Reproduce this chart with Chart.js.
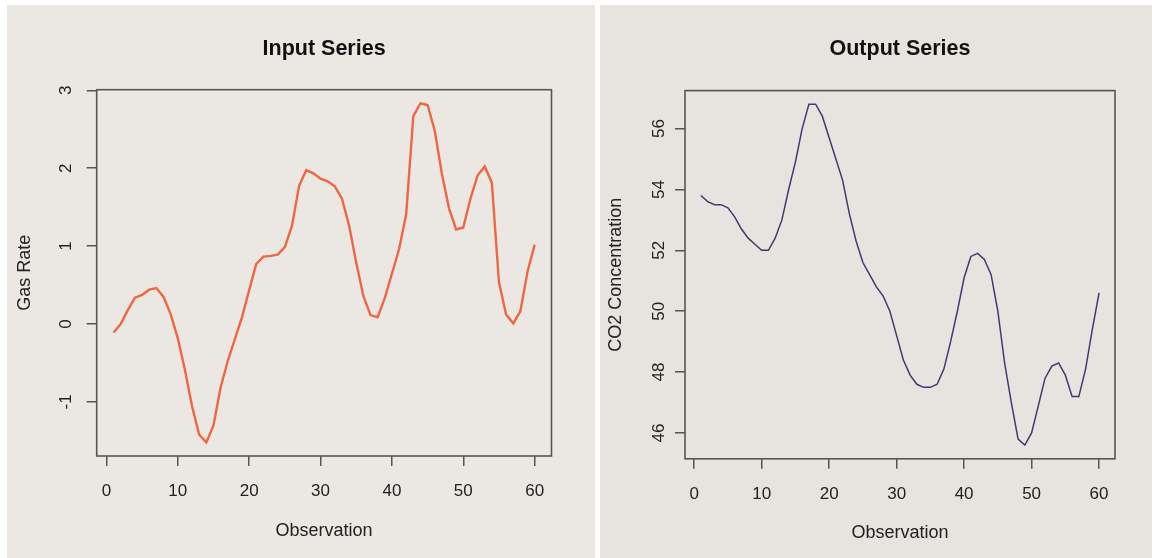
<!DOCTYPE html>
<html><head><meta charset="utf-8">
<script src="https://cdn.jsdelivr.net/npm/chart.js@4.4.0/dist/chart.umd.min.js"></script>
<style>
html,body{margin:0;padding:0;background:#ffffff;width:1152px;height:558px;overflow:hidden}
.panel{position:absolute}
#p1{left:7px;top:5px;width:588px;height:553px;background:#ebe8e4}
#p2{left:600px;top:5px;width:552px;height:553px;background:#e7e3de}
canvas{display:block}
</style></head><body>
<div class="panel" id="p1"><canvas id="c1" width="588" height="553"></canvas></div>
<div class="panel" id="p2"><canvas id="c2" width="552" height="553"></canvas></div>
<script>
const observations = [1,2,3,4,5,6,7,8,9,10,11,12,13,14,15,16,17,18,19,20,
  21,22,23,24,25,26,27,28,29,30,31,32,33,34,35,36,37,38,39,40,
  41,42,43,44,45,46,47,48,49,50,51,52,53,54,55,56,57,58,59,60];
const gasRate = [-0.109,0.000,0.178,0.339,0.373,0.441,0.461,0.348,0.127,-0.180,
  -0.588,-1.055,-1.421,-1.520,-1.302,-0.814,-0.475,-0.193,0.088,0.435,
  0.771,0.866,0.875,0.891,0.987,1.263,1.775,1.976,1.934,1.866,
  1.832,1.767,1.608,1.265,0.790,0.360,0.115,0.088,0.331,0.645,
  0.960,1.409,2.670,2.834,2.812,2.483,1.929,1.485,1.214,1.239,
  1.608,1.905,2.023,1.815,0.535,0.122,0.009,0.164,0.671,1.019];
const co2 = [53.8,53.6,53.5,53.5,53.4,53.1,52.7,52.4,52.2,52.0,
  52.0,52.4,53.0,54.0,54.9,56.0,56.8,56.8,56.4,55.7,
  55.0,54.3,53.2,52.3,51.6,51.2,50.8,50.5,50.0,49.2,
  48.4,47.9,47.6,47.5,47.5,47.6,48.1,49.0,50.0,51.1,
  51.8,51.9,51.7,51.2,50.0,48.3,47.0,45.8,45.6,46.0,
  46.9,47.8,48.2,48.3,47.9,47.2,47.2,48.1,49.4,50.6];
const xTickValues = [0,10,20,30,40,50,60];
const gasTickValues = [-1,0,1,2,3];
const co2TickValues = [46,48,50,52,54,56];

const FF = '"Liberation Sans", Arial, Helvetica, sans-serif';

function rRange(arr){
  const mn = Math.min(...arr), mx = Math.max(...arr), p = (mx-mn)*0.04;
  return [mn-p, mx+p];
}

const frame = {
  id:'frame',
  afterDatasetsDraw(chart){
    const {ctx, chartArea:a} = chart;
    ctx.save();
    ctx.strokeStyle = '#555555';
    ctx.lineWidth = 1.6;
    ctx.strokeRect(a.left, a.top, a.right-a.left, a.bottom-a.top);
    ctx.restore();
  }
};

function makeChart(id, cfg){
  const [xmin,xmax] = rRange(observations);
  const [ymin,ymax] = rRange(cfg.values);
  return new Chart(document.getElementById(id), {
    type:'line',
    data:{datasets:[{
      data: observations.map((x,i)=>({x:x, y:cfg.values[i]})),
      borderColor: cfg.color, borderWidth: cfg.width,
      pointRadius:0, tension:0, fill:false
    }]},
    plugins:[frame],
    options:{
      responsive:false, animation:false, events:[],
      layout:{padding:{left:0, top:0, right:cfg.padRight, bottom:0}},
      plugins:{
        legend:{display:false}, tooltip:{enabled:false},
        title:{display:true, text:cfg.title, fullSize:false, color:'#111111',
          font:{family:FF, size:21.5, weight:'bold'},
          padding:{top:31.2, bottom:cfg.titleBottom}}
      },
      scales:{
        x:{type:'linear', min:xmin, max:xmax,
          afterBuildTicks:s=>{ s.ticks = xTickValues.map(v=>({value:v})); },
          afterFit:s=>{ s.height = cfg.xHeight; },
          grid:{drawOnChartArea:false, drawTicks:true, tickLength:10, color:'#555555', lineWidth:1.5},
          border:{display:false},
          ticks:{color:'#222222', font:{family:FF, size:17}, padding:cfg.xTickPad, maxRotation:0, autoSkip:false},
          title:{display:true, text:'Observation', color:'#222222', font:{family:FF, size:18},
            padding:{top:0, bottom:cfg.xTitlePad}}
        },
        y:{type:'linear', min:ymin, max:ymax,
          afterBuildTicks:s=>{ s.ticks = cfg.ticks.map(v=>({value:v})); },
          afterFit:s=>{ s.width = cfg.yWidth; },
          grid:{drawOnChartArea:false, drawTicks:true, tickLength:10, color:'#555555', lineWidth:1.5},
          border:{display:false},
          ticks:{color:'#222222', font:{family:FF, size:17}, padding:cfg.yTickPad,
            minRotation:90, maxRotation:90, crossAlign:'center', autoSkip:false},
          title:{display:true, text:cfg.ylabel, color:'#222222', font:{family:FF, size:18},
            padding:{top:cfg.yTitlePad, bottom:0}}
        }
      }
    }
  });
}

makeChart('c1', {values:gasRate, ticks:gasTickValues, title:'Input Series', ylabel:'Gas Rate',
  color:'#ef6642', width:2.4, padRight:43.5, titleBottom:27.7, xHeight:102, yWidth:89.7,
  xTickPad:15.5, xTitlePad:16.2, yTickPad:13.1, yTitlePad:7.2});
makeChart('c2', {values:co2, ticks:co2TickValues, title:'Output Series', ylabel:'CO2 Concentration',
  color:'#3d3b73', width:1.5, padRight:37, titleBottom:28.6, xHeight:99.2, yWidth:85,
  xTickPad:15.5, xTitlePad:13.7, yTickPad:6.5, yTitlePad:5.2});
</script>
</body></html>
